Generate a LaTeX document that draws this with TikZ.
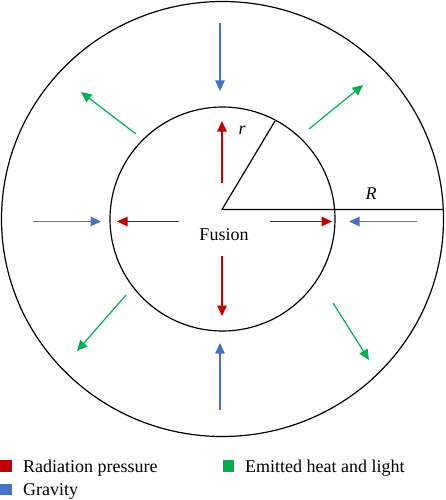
\documentclass[tikz,border=0pt]{standalone}
\usepackage{fontspec}
\setmainfont{Liberation Serif}
\usetikzlibrary{arrows.meta}
\definecolor{rp}{HTML}{C00000}
\definecolor{gv}{HTML}{4472C4}
\definecolor{eh}{HTML}{00B050}
\tikzset{
  ring/.style={draw=black, line width=1.2pt},
  force/.style={line width=1.2pt, -{Triangle[length=10.5pt,width=9.5pt]}},
  radarrow/.style={force, draw=rp},
  gravarrow/.style={force, draw=gv},
  heatarrow/.style={force, draw=eh},
  radius/.style={draw=black, line width=1.2pt},
  lbl/.style={font=\fontsize{18}{21}\selectfont, inner sep=0pt, anchor=base},
  leg/.style={font=\fontsize{18}{21}\selectfont, inner sep=0pt, anchor=base west},
  sq/.style={minimum size=11.5pt, inner sep=0pt, draw=none}
}
\begin{document}
\begin{tikzpicture}[x=1pt,y=-1pt]
\useasboundingbox (0,0) rectangle (445,500);
% circles
\coordinate (c) at (222.5,219);
\draw[ring] (c) ellipse [x radius=221, y radius=217.5];
\draw[ring] (c) ellipse [x radius=112.5, y radius=112];
% radii
\coordinate (o) at (222,209.5);
\coordinate (rin) at (275,121);
\coordinate (rout) at (443,209.5);
\draw[radius] (rin) -- (o) -- (rout);
\node[lbl, font=\fontsize{18}{21}\selectfont\itshape] (rl) at (242,135) {r};
\node[lbl, font=\fontsize{18}{21}\selectfont\itshape] (Rl) at (371,199) {R};
\node[lbl] (fusion) at (224,240.5) {Fusion};
% radiation pressure (red)
\coordinate (ru1) at (222,183); \coordinate (ru2) at (222,121);
\coordinate (rd1) at (222,256); \coordinate (rd2) at (222,316);
\coordinate (rl1) at (179,221.5); \coordinate (rl2) at (117,221.5);
\coordinate (rr1) at (270,221.5); \coordinate (rr2) at (332,221.5);
\draw[radarrow] (ru1) -- (ru2);
\draw[radarrow] (rd1) -- (rd2);
\draw[radarrow] (rl1) -- (rl2);
\draw[radarrow] (rr1) -- (rr2);
% gravity (blue)
\coordinate (gt1) at (220,23); \coordinate (gt2) at (220,91);
\coordinate (gb1) at (220,410); \coordinate (gb2) at (220,343);
\coordinate (gl1) at (33,221.5); \coordinate (gl2) at (101,221.5);
\coordinate (gr1) at (417,221.5); \coordinate (gr2) at (349,221.5);
\draw[gravarrow] (gt1) -- (gt2);
\draw[gravarrow] (gb1) -- (gb2);
\draw[gravarrow] (gl1) -- (gl2);
\draw[gravarrow] (gr1) -- (gr2);
% emitted heat and light (green)
\coordinate (h11) at (136,134); \coordinate (h12) at (81,92);
\coordinate (h21) at (309,129); \coordinate (h22) at (363,85);
\coordinate (h31) at (126,295); \coordinate (h32) at (77,351);
\coordinate (h41) at (333,303); \coordinate (h42) at (369,360);
\draw[heatarrow] (h11) -- (h12);
\draw[heatarrow] (h21) -- (h22);
\draw[heatarrow] (h31) -- (h32);
\draw[heatarrow] (h41) -- (h42);
% legend
\node[sq, fill=rp, anchor=south west] (sqr) at (0,472) {};
\node[leg] (tr) at (23,472) {Radiation pressure};
\node[sq, fill=gv, anchor=south west] (sqg) at (0,495.5) {};
\node[leg] (tg) at (23,495.5) {Gravity};
\node[sq, fill=eh, anchor=south west] (sqe) at (222.5,472) {};
\node[leg] (te) at (245,472) {Emitted heat and light};
\end{tikzpicture}
\end{document}
